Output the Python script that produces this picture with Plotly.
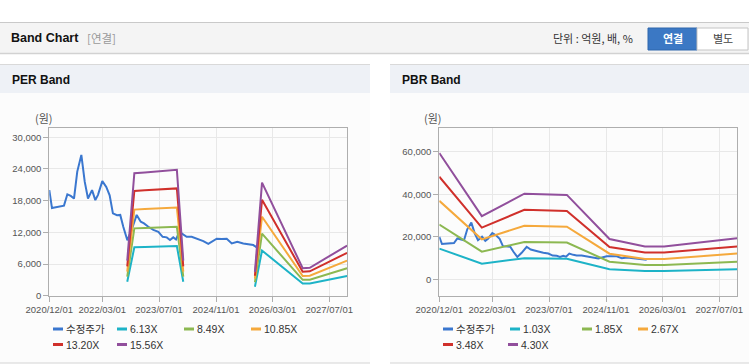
import plotly.graph_objects as go

W, H = 749, 364

# ---------------- data ----------------
price_dates = [
    "2020-12-01", "2020-12-24", "2021-01-15", "2021-02-10", "2021-03-05", "2021-04-06",
    "2021-05-05", "2021-06-03", "2021-07-01", "2021-07-29", "2021-09-02", "2021-10-01",
    "2021-10-29", "2021-12-03", "2021-12-31", "2022-01-23", "2022-03-01", "2022-04-04",
    "2022-05-03", "2022-05-31", "2022-07-05", "2022-08-02", "2022-08-28", "2022-10-02",
    "2022-11-08", "2022-12-21", "2023-01-25", "2023-02-22", "2023-03-31", "2023-05-13",
    "2023-06-25", "2023-08-01", "2023-09-05", "2023-10-03", "2023-10-31", "2023-11-24",
    "2023-12-22", "2024-01-25", "2024-02-23", "2024-04-06", "2024-05-20", "2024-07-15",
    "2024-08-27", "2024-11-07", "2024-12-20", "2025-02-01", "2025-03-16", "2025-05-03",
    "2025-06-23", "2025-09-17", "2025-10-16",
]
price_values = [
    20000, 16600, 16700, 16800, 16850, 17050,
    19200, 18900, 18400, 23500, 26650, 21600,
    18400, 20000, 18100, 19100, 21700, 20600,
    19000, 15600, 15250, 15300, 13050, 10500,
    12450, 15300, 14000, 13700, 13050, 12450,
    12100, 11150, 11050, 10550, 11050, 10650,
    12100, 11500, 11150, 11150, 10800, 10350,
    9800, 10800, 10730, 10790, 9900, 10220,
    9900, 9590, 9160,
]

# PER band (원) -- gaps where the band is not defined
per_band_dates = [
    "2022-10-01", "2022-12-01", "2023-03-01", "2023-06-01", "2023-09-01", "2023-12-01",
    "2024-01-25", "2024-06-01", "2025-10-01", "2025-12-01", "2026-11-15", "2027-01-15",
    "2027-12-01",
]
per_band_labels = ["6.13X", "8.49X", "10.85X", "13.20X", "15.56X"]
per_band_613 = [2650, 9160, 9230, 9290, 9350, 9410, 2650, None, 1700, 8550, 2300, 2330, 3750]
per_band_849 = [3600, 12750, 12820, 12880, 12970, 13050, 3600, None, 2550, 11760, 3000, 3030, 5190]
per_band_1085 = [4560, 16300, 16400, 16480, 16600, 16700, 4560, None, 3250, 14960, 3740, 3790, 6650]
per_band_1320 = [5550, 19850, 19960, 20060, 20200, 20320, 5550, None, 3780, 18150, 4550, 4610, 8120]
per_band_1556 = [6650, 23200, 23350, 23500, 23680, 23850, 6650, None, 4520, 21420, 5200, 5280, 9500]

# PBR band (원)
pbr_band_dates = [
    "2020-12-01", "2021-12-01", "2022-12-01", "2023-12-01", "2024-12-01",
    "2025-10-01", "2026-03-15", "2027-12-01",
]
pbr_band_labels = ["1.03X", "1.85X", "2.67X", "3.48X", "4.30X"]
pbr_band_103 = [14450, 7350, 9900, 9700, 4750, 3900, 3900, 4750]
pbr_band_185 = [25750, 12980, 17550, 17250, 8280, 6700, 6700, 8290]
pbr_band_267 = [36900, 18800, 25150, 24750, 12050, 9580, 9580, 12100]
pbr_band_348 = [48250, 24320, 32650, 32150, 15200, 12600, 12600, 15450]
pbr_band_430 = [59400, 29700, 40250, 39700, 18950, 15400, 15400, 19280]

x_tick_vals = ["2020-12-01", "2022-03-01", "2023-07-01", "2024-11-01", "2026-03-01", "2027-07-01"]
x_tick_text = ["2020/12/01", "2022/03/01", "2023/07/01", "2024/11/01", "2026/03/01", "2027/07/01"]
per_y_ticks = [0, 6000, 12000, 18000, 24000, 30000]
pbr_y_ticks = [0, 20000, 40000, 60000]

# ---------------- styling ----------------
price_color = "#3a77cf"
band_colors = ["#1db3c7", "#8cb851", "#f5a93c", "#d0302b", "#914f9c"]
FONT = "Liberation Sans, Noto Sans CJK KR, sans-serif"
KFONT = "Noto Sans CJK KR, Liberation Sans, sans-serif"


def px(x):
    return x / W


def py(y):
    return 1 - y / H


fig = go.Figure()

per_bands = [per_band_613, per_band_849, per_band_1085, per_band_1320, per_band_1556]
pbr_bands = [pbr_band_103, pbr_band_185, pbr_band_267, pbr_band_348, pbr_band_430]

# PER panel traces
fig.add_trace(go.Scatter(x=price_dates, y=price_values, mode="lines", name="수정주가",
                         line=dict(color=price_color, width=2), xaxis="x", yaxis="y",
                         showlegend=False))
for lab, vals, col in zip(per_band_labels, per_bands, band_colors):
    fig.add_trace(go.Scatter(x=per_band_dates, y=vals, mode="lines", name=lab,
                             line=dict(color=col, width=2), connectgaps=False,
                             xaxis="x", yaxis="y", showlegend=False))

# PBR panel traces
fig.add_trace(go.Scatter(x=price_dates, y=price_values, mode="lines", name="수정주가",
                         line=dict(color=price_color, width=2), xaxis="x2", yaxis="y2",
                         showlegend=False))
for lab, vals, col in zip(pbr_band_labels, pbr_bands, band_colors):
    fig.add_trace(go.Scatter(x=pbr_band_dates, y=vals, mode="lines", name=lab,
                             line=dict(color=col, width=2),
                             xaxis="x2", yaxis="y2", showlegend=False))

axis_common = dict(
    showgrid=True, gridcolor="#e8e8e8", gridwidth=1,
    showline=True, linecolor="#aeaeae", linewidth=1, mirror=True,
    ticks="outside", ticklen=5, tickcolor="#aeaeae",
    tickfont=dict(family=FONT, size=9.5, color="#555555"),
    zeroline=False, fixedrange=True, automargin=False,
)

ydom = [py(295.7), py(128.3)]

fig.update_layout(
    width=W, height=H, autosize=False,
    margin=dict(l=0, r=0, t=0, b=0, pad=0, autoexpand=False),
    paper_bgcolor="white", plot_bgcolor="white",
    showlegend=False,
    xaxis=dict(domain=[px(49.3), px(347.3)], anchor="y", type="date",
               range=["2020-12-01", "2027-12-03"], tickvals=x_tick_vals,
               ticktext=x_tick_text, **axis_common),
    yaxis=dict(domain=ydom, anchor="x", range=[0, 31700], tickvals=per_y_ticks,
               tickformat=",d", **axis_common),
    xaxis2=dict(domain=[px(439.3), px(737.3)], anchor="y2", type="date",
                range=["2020-12-01", "2027-12-03"], tickvals=x_tick_vals,
                ticktext=x_tick_text, **axis_common),
    yaxis2=dict(domain=ydom, anchor="x2", range=[-7710, 71010], tickvals=pbr_y_ticks,
                tickformat=",d", **axis_common),
)

shapes = []
annotations = []


def rect(x0, y0, x1, y1, fill, line=None, lw=0):
    shapes.append(dict(type="rect", xref="paper", yref="paper",
                       x0=px(x0), x1=px(x1), y0=py(y1), y1=py(y0),
                       fillcolor=fill, line=dict(color=line or fill, width=lw),
                       layer="below"))


def hline(x0, x1, y, color, w=1):
    shapes.append(dict(type="line", xref="paper", yref="paper",
                       x0=px(x0), x1=px(x1), y0=py(y), y1=py(y),
                       line=dict(color=color, width=w), layer="below"))


def text(x, y, s, size, color, bold=False, anchor="left", family=FONT):
    if bold:
        s = "<b>" + s + "</b>"
    annotations.append(dict(xref="paper", yref="paper", x=px(x), y=py(y), text=s,
                            showarrow=False, xanchor=anchor, yanchor="middle",
                            font=dict(family=family, size=size, color=color),
                            borderpad=0))


# top header bar
rect(0, 22, 749, 53.5, "#f4f4f4")
hline(0, 749, 22.5, "#c9c9c9", 1)
hline(0, 749, 53.5, "#d2d2d2", 1.5)
text(10, 38.5, "Band Chart", 12.5, "#111111", bold=True)
text(86, 38.5, "[연결]", 11.5, "#999999", family=KFONT)
text(552, 38.5, "단위 : 억원, 배, %", 11, "#333333", family=KFONT)
rect(648, 28, 697, 50, "#3b78c4", "#2e66ac", 1)
text(672.5, 38.5, "연결", 11, "#ffffff", bold=True, anchor="center", family=KFONT)
rect(697, 28, 748, 50, "#ffffff", "#c4c4c4", 1)
text(722.5, 38.5, "별도", 11, "#444444", anchor="center", family=KFONT)

# panels
for (x0, x1, title) in [(0, 370, "PER Band"), (390, 749, "PBR Band")]:
    rect(x0, 64, x1, 363, "#fcfcfc")
    rect(x0, 64, x1, 93, "#eef1f6")
    hline(x0, x1, 64.5, "#d9d9d9", 1)
    hline(x0, x1, 363, "#d4d4d4", 1)
    text(x0 + 11, 80, title, 12, "#111111", bold=True)

text(44, 118.5, "(원)", 11, "#555555", anchor="center", family=KFONT)
text(433, 118.5, "(원)", 11, "#555555", anchor="center", family=KFONT)

# custom legends (line sample + label)
legend_names_per = ["수정주가"] + per_band_labels
legend_names_pbr = ["수정주가"] + pbr_band_labels
legend_colors = [price_color] + band_colors
per_slots = [(53, 329), (117, 329), (184, 329), (251, 329), (53, 344.5), (117, 344.5)]
pbr_slots = [(443, 329), (510, 329), (582, 329), (638, 329), (443, 344.5), (508, 344.5)]
for names, slots in [(legend_names_per, per_slots), (legend_names_pbr, pbr_slots)]:
    for nm, col, (lx, ly) in zip(names, legend_colors, slots):
        hline(lx, lx + 10, ly, col, 3)
        text(lx + 12, ly, nm, 10.5, "#333333", family=FONT)

fig.update_layout(shapes=shapes, annotations=annotations)

# the page body gets no default margin so the figure sits at the window's top-left
fig.write_html("out.html", config={"displayModeBar": False},
               post_script="document.body.style.margin='0px';")
